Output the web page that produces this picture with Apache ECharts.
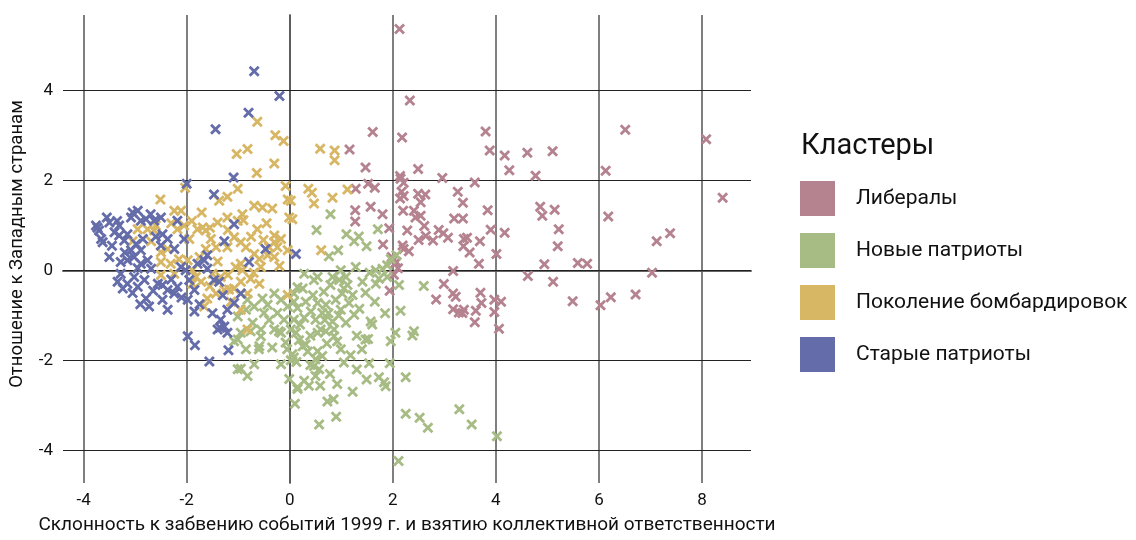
<!DOCTYPE html>
<html>
<head>
<meta charset="utf-8">
<script src="https://cdn.jsdelivr.net/npm/echarts@6/dist/echarts.min.js"></script>
<style>
  html, body { margin: 0; padding: 0; background: #fff; }
  #chart { width: 1136px; height: 540px; }
</style>
</head>
<body>
<div id="chart"></div>
<script>
// точки кластеров [x, y]
const liberals = [
  [2.13,5.37],[2.33,3.78],[1.61,3.08],[2.18,2.96],[3.80,3.09],[3.88,2.67],[4.17,2.56],[4.61,2.62],[4.26,2.23],[1.16,2.69],
  [1.47,2.29],[2.49,2.26],[2.14,2.10],[2.96,2.06],[5.10,2.65],[4.77,2.11],[6.51,3.13],[6.13,2.22],[8.08,2.92],
  [4.86,1.42],[4.90,1.22],[5.14,1.35],[5.22,0.92],[5.20,0.54],[4.94,0.14],[4.62,-0.12],[5.11,-0.25],[5.59,0.17],[5.77,0.15],
  [5.49,-0.68],[6.03,-0.77],[6.23,-0.59],[6.71,-0.53],[7.03,-0.05],[7.12,0.65],[7.38,0.83],[6.18,1.20],[8.40,1.62],
  [2.15,2.04],[2.21,1.95],[3.59,1.96],[1.52,1.93],[1.65,1.84],[1.28,1.82],[2.17,1.75],[2.21,1.66],[2.49,1.71],[2.63,1.69],
  [3.26,1.75],[3.36,1.51],[2.54,1.52],[2.14,1.60],[1.57,1.42],[1.27,1.34],[1.27,1.09],[1.80,1.25],[2.20,1.33],[2.41,1.33],
  [2.44,1.18],[2.54,1.22],[3.19,1.16],[3.36,1.16],[3.84,1.34],[4.17,0.84],[3.90,0.91],[1.93,0.94],[2.28,0.89],[2.61,0.99],
  [2.64,0.77],[2.50,0.68],[2.78,0.67],[2.89,0.90],[2.98,0.83],[3.07,0.73],[3.38,0.70],[3.44,0.73],[3.69,0.65],[3.37,0.54],
  [3.49,0.40],[4.01,0.37],[3.67,0.15],[1.81,0.58],[2.19,0.56],[2.21,0.48],[2.31,0.43],[2.00,0.23],[2.04,0.15],[2.07,0.19],
  [1.98,0.30],[2.10,0.05],[2.02,-0.09],[1.94,-0.45],[3.17,-0.01],[2.99,-0.30],[2.84,-0.64],[3.17,-0.51],[3.22,-0.58],[3.70,-0.49],
  [3.72,-0.72],[3.61,-0.89],[3.17,-0.86],[3.28,-0.93],[3.35,-0.94],[3.38,-0.87],[3.59,-1.15],[3.97,-0.65],[4.10,-0.69],[3.97,-0.92],
  [4.06,-1.29]
]
const newPatriots = [
  [0.79,1.25],[0.52,0.90],[1.10,0.81],[1.34,0.76],[1.25,0.65],[1.49,0.54],[1.71,0.92],[0.94,0.45],[0.76,0.32],[2.07,0.34],
  [1.96,0.26],[1.89,0.12],[1.67,0.01],[1.80,0.04],[1.28,0.08],[0.99,0.01],[0.28,-0.07],[0.54,-0.14],[0.47,-0.21],[0.83,-0.14],
  [0.96,-0.21],[1.09,-0.14],[1.12,-0.32],[0.79,-0.32],[1.41,-0.25],[1.73,-0.18],[1.89,-0.14],[1.67,-0.29],[2.12,-0.32],[2.60,-0.34],
  [0.15,-0.37],[0.66,-0.47],[1.02,-0.51],[1.22,-0.54],[1.47,-0.49],[0.08,-0.69],[0.31,-0.69],[0.54,-0.72],[0.70,-0.76],[0.89,-0.65],
  [1.15,-0.72],[1.65,-0.69],[0.15,-0.83],[0.41,-0.91],[0.63,-0.94],[0.99,-0.87],[1.25,-0.98],[2.15,-0.89],[0.28,-1.05],[0.50,-1.09],
  [0.83,-1.13],[1.09,-1.16],[1.57,-1.13],[1.60,-1.20],[0.60,-1.31],[0.70,-1.35],[0.86,-1.31],[2.05,-1.38],[2.41,-1.35],
  [0.08,-1.93],[0.02,-1.99],[0.13,-2.03],[0.05,-1.86],[0.25,-1.68],[0.31,-1.64],[0.54,-1.38],[0.86,-1.46],[0.92,-1.57],[0.99,-1.75],
  [0.54,-1.79],[0.50,-1.97],[0.47,-2.12],[0.57,-2.19],[0.50,-2.34],[0.28,-2.45],[0.15,-2.59],[0.37,-2.56],[0.59,-2.56],[0.10,-2.96],
  [0.57,-3.42],[0.73,-2.91],[0.85,-2.86],[0.90,-3.25],[0.92,-2.52],[1.22,-2.69],[1.18,-1.88],[1.05,-2.04],[1.49,-2.42],[1.54,-2.06],
  [1.47,-1.53],[1.52,-1.52],[1.73,-2.37],[1.83,-2.48],[1.86,-2.57],[1.94,-2.06],[1.96,-1.57],[2.38,-1.44],[2.25,-2.37],[2.25,-3.18],
  [2.52,-3.27],[2.68,-3.49],[3.29,-3.08],[3.53,-3.42],[4.02,-3.68],[2.11,-4.23],[0.12,-1.38],
  [0.18,-1.55],[0.35,-1.80],[0.72,-1.62],[0.78,-2.30],[1.30,-2.20],[1.40,-1.75],[0.63,-1.90],[0.40,-2.10],
  [-1.01,-1.53],[-0.85,-1.75],[-0.95,-2.18],[-0.82,-2.34],[-1.01,-2.19],[-0.69,-2.08],[-0.59,-1.68],[-0.56,-1.46],[-0.34,-1.71],[-0.21,-1.35],
  [-0.08,-1.60],[-0.17,-2.08],[-0.01,-2.41],[0.15,-2.63],[-0.76,-1.35],[-1.08,-1.57],
  [-0.82,-0.65],[-0.69,-0.80],[-0.53,-0.62],[-0.43,-0.76],[-0.30,-0.51],[-0.17,-0.65],[-0.04,-0.80],[0.08,-0.51],[-0.50,-0.94],[-0.24,-0.94],
  [-0.11,-1.09],[0.08,-1.09],[-0.72,-1.16],[-0.56,-1.31],[-0.30,-1.31],[-0.17,-1.38],[-0.95,-1.38],[0.02,-1.31],[-1.01,-1.02],[-0.85,-0.87],
  [0.20,-1.20],[0.40,-1.45],[0.75,-0.95],[1.35,-0.85],[1.85,-0.95],[0.95,-1.00],[1.30,-1.45],[0.25,-0.40],[-0.40,-1.10],[-0.60,-1.75],
  [1.05,-0.40],[1.55,-0.05],[0.45,-0.55],[-0.05,-1.75],[0.68,-1.10]
]
const bombingGen = [
  [-0.63,3.31],[-0.28,3.01],[-0.12,2.88],[-0.82,2.70],[-1.03,2.59],[-0.30,2.38],[-0.64,2.17],[0.59,2.71],[0.87,2.67],[0.87,2.45],
  [-2.03,1.84],[-2.51,1.58],[-1.01,1.82],[-1.37,1.55],[-1.21,1.64],[-1.71,1.29],[-2.24,1.33],[-2.11,1.33],[-0.69,1.44],[-0.53,1.40],
  [-0.34,1.38],[-0.08,1.88],[-0.04,1.58],[-0.01,1.18],[-0.92,1.25],[-1.01,1.11],[-1.21,1.18],[-1.40,1.07],[-0.90,1.12],[-0.63,0.92],
  [-0.30,0.78],[-0.17,0.70],[-0.51,0.68],[-1.69,0.96],[-1.79,0.92],[-1.63,0.89],[-2.05,1.00],[-2.18,0.92],[-2.76,0.92],[-2.63,0.89],
  [-2.95,0.92],[-3.05,0.65],[-2.69,0.65],[-1.95,0.70],[-1.53,0.70],[-1.08,0.74],[-0.95,0.63],[-0.85,0.52],[-1.21,0.52],[-1.43,0.52],
  [-1.63,0.48],[-0.30,0.63],[-0.40,0.52],[-0.24,0.52],[-0.04,0.45],[-0.43,0.34],[-0.59,0.26],[-0.30,0.30],[-0.69,0.37],[-2.50,0.41],
  [-2.37,0.48],[-2.50,0.19],[-2.31,0.15],[-2.50,-0.10],[-2.24,-0.07],[-1.98,0.23],[-1.89,0.01],[-1.82,-0.14],[-1.89,-0.29],[-1.72,-0.25],
  [-1.50,-0.07],[-1.34,-0.14],[-1.05,0.08],[-0.95,0.15],[-0.92,0.01],[-0.76,-0.18],[-0.59,-0.29],[-0.56,0.08],[-1.43,-0.51],[-1.27,-0.43],
  [-1.08,-0.40],[-1.18,-0.42],[-1.60,-0.62],[-1.66,-0.80],[-1.14,-0.69],[-0.95,-0.87],[-0.82,-0.51],[-0.04,-0.54],[-0.82,-1.31],
  [0.36,1.82],[0.43,1.73],[0.47,1.49],[0.83,1.62],[1.12,1.80],[0.02,1.55],[0.05,1.14],[0.61,0.45],
  [-2.30,1.05],[-1.90,1.10],[-1.55,0.95],[-1.20,0.90],[-0.75,0.75],[-0.45,1.05],[-1.75,0.30],[-1.40,0.20],[-1.20,-0.10],[-0.70,-0.05],
  [-2.15,0.25],[-1.55,-0.35],[-0.95,-0.25],[-0.20,0.10],[-2.60,1.00]
]
const oldPatriots = [
  [-0.69,4.43],[-0.20,3.88],[-0.80,3.51],[-1.44,3.14],[-1.09,2.07],[-1.47,1.69],[-2.00,1.93],[0.12,0.37],[-1.08,1.03],[-1.27,0.65],
  [-0.47,0.48],[-0.79,0.19],
  [-3.76,1.00],[-3.70,0.89],[-3.73,0.95],[-3.66,0.70],[-3.63,0.63],[-3.55,1.18],[-3.50,1.07],[-3.31,1.00],[-3.40,0.85],[-3.31,0.78],
  [-3.15,0.81],[-3.05,1.29],[-2.95,1.33],[-3.08,1.18],[-2.89,1.11],[-2.79,1.14],[-3.21,0.67],[-2.98,0.59],[-2.85,0.70],[-3.08,0.45],
  [-2.89,0.45],[-2.63,1.11],[-2.50,1.18],[-2.47,0.81],[-2.37,0.70],[-2.50,0.56],[-2.24,0.48],[-2.18,1.11],[-2.05,0.70],[-3.28,0.19],
  [-3.15,0.23],[-3.02,0.30],[-2.89,0.15],[-2.76,0.23],[-3.28,-0.07],[-3.34,-0.25],[-3.02,-0.14],[-2.82,-0.21],[-3.15,-0.29],[-3.24,-0.40],
  [-2.95,-0.36],[-2.69,0.04],[-2.56,-0.29],[-2.47,-0.32],[-2.37,-0.43],[-2.24,-0.51],[-2.18,-0.36],[-2.79,-0.62],[-2.73,-0.80],[-2.47,-0.65],
  [-2.37,-0.87],[-2.11,0.08],[-2.02,0.01],[-1.95,-0.21],[-1.85,-0.43],[-1.98,-0.65],[-1.85,-0.91],[-1.66,0.23],[-1.79,0.15],[-1.60,0.34],
  [-1.47,-0.21],[-1.37,-0.25],[-1.60,0.04],[-0.95,-0.51],[-1.08,-0.72],[-1.21,-0.87],[-1.34,-1.09],[-1.27,-1.24],[-1.40,-1.31],[-1.21,-1.38],
  [-1.98,-1.46],[-1.84,-1.66],[-1.56,-2.02],[-1.35,-1.27],[-1.19,-1.77],
  [-3.45,0.55],[-3.20,0.40],[-2.95,0.05],[-2.65,-0.45],[-3.05,-0.50],[-2.60,0.75],[-3.35,1.10],[-2.70,1.25],[-2.30,-0.20],[-2.10,-0.60],
  [-1.75,-0.75],[-1.50,-0.95],[-1.30,-0.55],[-2.90,-0.75],[-3.50,0.30]
]
const clusterNames = ['Либералы', 'Новые патриоты', 'Поколение бомбардировок', 'Старые патриоты']
const clusterColors = ['#B5838F', '#A7BC84', '#D7B664', '#646CA9']
const xTicks = [-4, -2, 0, 2, 4, 6, 8]
const yTicks = [-4, -2, 0, 2, 4]

const FONT = 'Roboto'
// крестик как заливаемый контур
const crossPath = 'path://M0,3.6 L3.6,0 L10,6.4 L16.4,0 L20,3.6 L13.6,10 L20,16.4 L16.4,20 L10,13.6 L3.6,20 L0,16.4 L6.4,10 Z'

const chart = echarts.init(document.getElementById('chart'), null, { renderer: 'canvas' })

const gridLines = xTicks.map(v => ({ xAxis: v, lineStyle: { color: '#555', width: 1.5 } }))
  .concat(yTicks.map(v => ({ yAxis: v, lineStyle: { color: '#222', width: 1 } })))

const allData = [liberals, newPatriots, bombingGen, oldPatriots]
const series = allData.map((d, i) => {
  const s = {
    name: clusterNames[i],
    type: 'scatter',
    data: d,
    symbol: crossPath,
    symbolSize: 11,
    itemStyle: { color: clusterColors[i], opacity: 1 },
    emphasis: { disabled: true },
    animation: false
  }
  if (i === 0) {
    s.markLine = {
      silent: true,
      symbol: 'none',
      z: 1,
      animation: false,
      label: { show: false },
      lineStyle: { type: 'solid' },
      data: gridLines
    }
  }
  return s
})

const option = {
  backgroundColor: '#fff',
  animation: false,
  textStyle: { fontFamily: FONT },
  title: {
    text: 'Кластеры',
    left: 801,
    top: 132,
    padding: 0,
    textStyle: { fontSize: 29, fontWeight: 'normal', color: '#111', fontFamily: FONT }
  },
  legend: {
    orient: 'vertical',
    left: 800,
    top: 181,
    padding: 0,
    icon: 'rect',
    itemWidth: 35,
    itemHeight: 35,
    itemGap: 17,
    selectedMode: false,
    data: clusterNames,
    textStyle: { fontSize: 21, color: '#111', fontFamily: FONT, padding: [0, 0, 0, 16] }
  },
  grid: { left: 62, right: 385, top: 15, bottom: 52, containLabel: false },
  xAxis: {
    type: 'value',
    min: -4.4,
    max: 8.95,
    name: 'Склонность к забвению событий 1999 г. и взятию коллективной ответственности',
    nameLocation: 'middle',
    nameGap: 33,
    nameTextStyle: { fontSize: 19, color: '#111', fontFamily: FONT },
    axisLine: { show: true, lineStyle: { color: '#666', width: 2 } },
    axisTick: { show: false },
    splitLine: { show: false },
    axisLabel: { customValues: xTicks, fontSize: 17, color: '#111', margin: 9, fontFamily: FONT }
  },
  yAxis: {
    type: 'value',
    min: -4.72,
    max: 5.68,
    name: 'Отношение к Западным странам',
    nameLocation: 'middle',
    nameGap: 36,
    nameTextStyle: { fontSize: 18.5, color: '#111', fontFamily: FONT, padding: [0, 0, 0, 10] },
    axisLine: { show: true, lineStyle: { color: '#777', width: 2 } },
    axisTick: { show: false },
    splitLine: { show: false },
    axisLabel: { customValues: yTicks, fontSize: 17, color: '#111', margin: 10, fontFamily: FONT }
  },
  series: series
}

chart.setOption(option)
window.addEventListener('resize', function() {
  chart.resize()
})
</script>
</body>
</html>
